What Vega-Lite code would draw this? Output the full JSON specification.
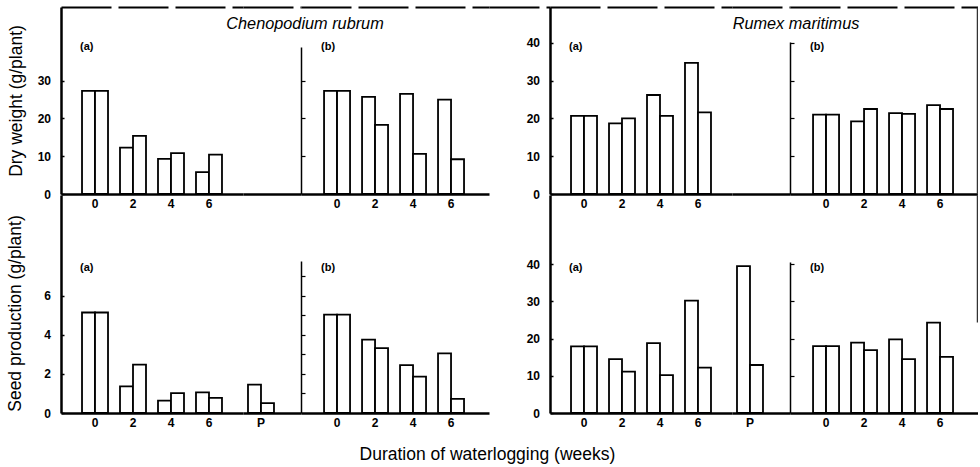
{
  "$schema": "https://vega.github.io/schema/vega-lite/v6.json",
  "padding": {"left": 6, "top": 7, "right": 0, "bottom": 2},
  "background": "white",
  "datasets": {
    "bars": [
      {"species": "Chenopodium rubrum", "measure": "Dry weight", "panel": "a", "week": "0", "treatment": "1", "value": 27.3},
      {"species": "Chenopodium rubrum", "measure": "Dry weight", "panel": "a", "week": "0", "treatment": "2", "value": 27.3},
      {"species": "Chenopodium rubrum", "measure": "Dry weight", "panel": "a", "week": "2", "treatment": "1", "value": 12.3},
      {"species": "Chenopodium rubrum", "measure": "Dry weight", "panel": "a", "week": "2", "treatment": "2", "value": 15.4},
      {"species": "Chenopodium rubrum", "measure": "Dry weight", "panel": "a", "week": "4", "treatment": "1", "value": 9.3},
      {"species": "Chenopodium rubrum", "measure": "Dry weight", "panel": "a", "week": "4", "treatment": "2", "value": 10.8},
      {"species": "Chenopodium rubrum", "measure": "Dry weight", "panel": "a", "week": "6", "treatment": "1", "value": 5.8},
      {"species": "Chenopodium rubrum", "measure": "Dry weight", "panel": "a", "week": "6", "treatment": "2", "value": 10.4},
      {"species": "Chenopodium rubrum", "measure": "Dry weight", "panel": "b", "week": "0", "treatment": "1", "value": 27.3},
      {"species": "Chenopodium rubrum", "measure": "Dry weight", "panel": "b", "week": "0", "treatment": "2", "value": 27.3},
      {"species": "Chenopodium rubrum", "measure": "Dry weight", "panel": "b", "week": "2", "treatment": "1", "value": 25.7},
      {"species": "Chenopodium rubrum", "measure": "Dry weight", "panel": "b", "week": "2", "treatment": "2", "value": 18.3},
      {"species": "Chenopodium rubrum", "measure": "Dry weight", "panel": "b", "week": "4", "treatment": "1", "value": 26.5},
      {"species": "Chenopodium rubrum", "measure": "Dry weight", "panel": "b", "week": "4", "treatment": "2", "value": 10.6},
      {"species": "Chenopodium rubrum", "measure": "Dry weight", "panel": "b", "week": "6", "treatment": "1", "value": 25.0},
      {"species": "Chenopodium rubrum", "measure": "Dry weight", "panel": "b", "week": "6", "treatment": "2", "value": 9.2},
      {"species": "Rumex maritimus", "measure": "Dry weight", "panel": "a", "week": "0", "treatment": "1", "value": 20.7},
      {"species": "Rumex maritimus", "measure": "Dry weight", "panel": "a", "week": "0", "treatment": "2", "value": 20.7},
      {"species": "Rumex maritimus", "measure": "Dry weight", "panel": "a", "week": "2", "treatment": "1", "value": 18.7},
      {"species": "Rumex maritimus", "measure": "Dry weight", "panel": "a", "week": "2", "treatment": "2", "value": 20.0},
      {"species": "Rumex maritimus", "measure": "Dry weight", "panel": "a", "week": "4", "treatment": "1", "value": 26.2},
      {"species": "Rumex maritimus", "measure": "Dry weight", "panel": "a", "week": "4", "treatment": "2", "value": 20.7},
      {"species": "Rumex maritimus", "measure": "Dry weight", "panel": "a", "week": "6", "treatment": "1", "value": 34.7},
      {"species": "Rumex maritimus", "measure": "Dry weight", "panel": "a", "week": "6", "treatment": "2", "value": 21.6},
      {"species": "Rumex maritimus", "measure": "Dry weight", "panel": "b", "week": "0", "treatment": "1", "value": 21.0},
      {"species": "Rumex maritimus", "measure": "Dry weight", "panel": "b", "week": "0", "treatment": "2", "value": 21.0},
      {"species": "Rumex maritimus", "measure": "Dry weight", "panel": "b", "week": "2", "treatment": "1", "value": 19.2},
      {"species": "Rumex maritimus", "measure": "Dry weight", "panel": "b", "week": "2", "treatment": "2", "value": 22.5},
      {"species": "Rumex maritimus", "measure": "Dry weight", "panel": "b", "week": "4", "treatment": "1", "value": 21.4},
      {"species": "Rumex maritimus", "measure": "Dry weight", "panel": "b", "week": "4", "treatment": "2", "value": 21.2},
      {"species": "Rumex maritimus", "measure": "Dry weight", "panel": "b", "week": "6", "treatment": "1", "value": 23.5},
      {"species": "Rumex maritimus", "measure": "Dry weight", "panel": "b", "week": "6", "treatment": "2", "value": 22.5},
      {"species": "Chenopodium rubrum", "measure": "Seed production", "panel": "a", "week": "0", "treatment": "1", "value": 5.14},
      {"species": "Chenopodium rubrum", "measure": "Seed production", "panel": "a", "week": "0", "treatment": "2", "value": 5.14},
      {"species": "Chenopodium rubrum", "measure": "Seed production", "panel": "a", "week": "2", "treatment": "1", "value": 1.36},
      {"species": "Chenopodium rubrum", "measure": "Seed production", "panel": "a", "week": "2", "treatment": "2", "value": 2.47},
      {"species": "Chenopodium rubrum", "measure": "Seed production", "panel": "a", "week": "4", "treatment": "1", "value": 0.63},
      {"species": "Chenopodium rubrum", "measure": "Seed production", "panel": "a", "week": "4", "treatment": "2", "value": 1.02},
      {"species": "Chenopodium rubrum", "measure": "Seed production", "panel": "a", "week": "6", "treatment": "1", "value": 1.06},
      {"species": "Chenopodium rubrum", "measure": "Seed production", "panel": "a", "week": "6", "treatment": "2", "value": 0.77},
      {"species": "Chenopodium rubrum", "measure": "Seed production", "panel": "a", "week": "P", "treatment": "1", "value": 1.45},
      {"species": "Chenopodium rubrum", "measure": "Seed production", "panel": "a", "week": "P", "treatment": "2", "value": 0.51},
      {"species": "Chenopodium rubrum", "measure": "Seed production", "panel": "b", "week": "0", "treatment": "1", "value": 5.03},
      {"species": "Chenopodium rubrum", "measure": "Seed production", "panel": "b", "week": "0", "treatment": "2", "value": 5.03},
      {"species": "Chenopodium rubrum", "measure": "Seed production", "panel": "b", "week": "2", "treatment": "1", "value": 3.75},
      {"species": "Chenopodium rubrum", "measure": "Seed production", "panel": "b", "week": "2", "treatment": "2", "value": 3.32},
      {"species": "Chenopodium rubrum", "measure": "Seed production", "panel": "b", "week": "4", "treatment": "1", "value": 2.45},
      {"species": "Chenopodium rubrum", "measure": "Seed production", "panel": "b", "week": "4", "treatment": "2", "value": 1.86},
      {"species": "Chenopodium rubrum", "measure": "Seed production", "panel": "b", "week": "6", "treatment": "1", "value": 3.05},
      {"species": "Chenopodium rubrum", "measure": "Seed production", "panel": "b", "week": "6", "treatment": "2", "value": 0.72},
      {"species": "Rumex maritimus", "measure": "Seed production", "panel": "a", "week": "0", "treatment": "1", "value": 17.9},
      {"species": "Rumex maritimus", "measure": "Seed production", "panel": "a", "week": "0", "treatment": "2", "value": 17.9},
      {"species": "Rumex maritimus", "measure": "Seed production", "panel": "a", "week": "2", "treatment": "1", "value": 14.5},
      {"species": "Rumex maritimus", "measure": "Seed production", "panel": "a", "week": "2", "treatment": "2", "value": 11.1},
      {"species": "Rumex maritimus", "measure": "Seed production", "panel": "a", "week": "4", "treatment": "1", "value": 18.8},
      {"species": "Rumex maritimus", "measure": "Seed production", "panel": "a", "week": "4", "treatment": "2", "value": 10.2},
      {"species": "Rumex maritimus", "measure": "Seed production", "panel": "a", "week": "6", "treatment": "1", "value": 30.2},
      {"species": "Rumex maritimus", "measure": "Seed production", "panel": "a", "week": "6", "treatment": "2", "value": 12.2},
      {"species": "Rumex maritimus", "measure": "Seed production", "panel": "a", "week": "P", "treatment": "1", "value": 39.5},
      {"species": "Rumex maritimus", "measure": "Seed production", "panel": "a", "week": "P", "treatment": "2", "value": 12.9},
      {"species": "Rumex maritimus", "measure": "Seed production", "panel": "b", "week": "0", "treatment": "1", "value": 18.0},
      {"species": "Rumex maritimus", "measure": "Seed production", "panel": "b", "week": "0", "treatment": "2", "value": 18.0},
      {"species": "Rumex maritimus", "measure": "Seed production", "panel": "b", "week": "2", "treatment": "1", "value": 18.9},
      {"species": "Rumex maritimus", "measure": "Seed production", "panel": "b", "week": "2", "treatment": "2", "value": 16.9},
      {"species": "Rumex maritimus", "measure": "Seed production", "panel": "b", "week": "4", "treatment": "1", "value": 19.8},
      {"species": "Rumex maritimus", "measure": "Seed production", "panel": "b", "week": "4", "treatment": "2", "value": 14.5},
      {"species": "Rumex maritimus", "measure": "Seed production", "panel": "b", "week": "6", "treatment": "1", "value": 24.3},
      {"species": "Rumex maritimus", "measure": "Seed production", "panel": "b", "week": "6", "treatment": "2", "value": 15.1}
    ]
  },
  "title": {"text": "Duration of waterlogging (weeks)", "orient": "bottom", "anchor": "middle", "fontSize": 17.5, "fontWeight": "normal", "offset": 18, "dx": -5},
  "columns": 7,
  "spacing": {"row": 1, "column": 0},
  "bounds": "flush",
  "resolve": {"scale": {"x": "independent", "y": "independent"}},
  "concat": [
    {
      "width": 182, "height": 187,
      "title": {"text": "(a)", "anchor": "start", "frame": "group", "fontSize": 11, "fontWeight": "bold", "baseline": "top", "offset": 0, "dx": 19, "dy": 45},
      "data": {"name": "bars"},
      "transform": [{"filter": "datum.species == 'Chenopodium rubrum' && datum.measure == 'Dry weight' && datum.panel == 'a'"}],
      "layer": [
        {"mark": "bar", "encoding": {
          "x": {"field": "week", "type": "ordinal", "scale": {"domain": ["0", "2", "4", "6"], "paddingInner": 0.3158, "paddingOuter": 0.553, "align": 0.5}, "axis": {"orient": "bottom", "title": null, "labelAngle": 0, "ticks": false, "labelPadding": 4}},
          "xOffset": {"field": "treatment", "type": "nominal"},
          "y": {"field": "value", "type": "quantitative", "scale": {"domain": [0, 49.5], "nice": false}, "axis": {"values": [0, 10, 20, 30], "title": "Dry weight (g/plant)", "tickSize": -3, "labelPadding": 13.5, "titlePadding": 12}}
        }},
        {"mark": {"type": "bar", "opacity": 0}, "encoding": {
          "x": {"field": "week", "type": "ordinal", "axis": {"orient": "top", "title": null, "labels": false, "ticks": false, "domainWidth": 2, "domainDash": [50, 7]}},
          "xOffset": {"field": "treatment", "type": "nominal"}
        }}
      ]
    },
    {
      "width": 58, "height": 187,
      "title": {"text": "Chenopodium rubrum", "fontStyle": "italic", "fontSize": 16.3, "fontWeight": "normal", "anchor": "middle", "frame": "group", "baseline": "top", "offset": 0, "dx": 33, "dy": 25, "limit": 400},
      "data": {"name": "bars"},
      "transform": [{"filter": "datum.species == 'Chenopodium rubrum' && datum.measure == 'Dry weight' && datum.panel == 'a' && datum.week == 'P'"}],
      "layer": [
        {"mark": "bar", "encoding": {
          "x": {"field": "week", "type": "ordinal", "scale": {"domain": ["P"], "paddingInner": 0.3158, "paddingOuter": 0.421, "align": 0.156}, "axis": {"orient": "bottom", "title": null, "labels": false, "ticks": false}},
          "xOffset": {"field": "treatment", "type": "nominal"},
          "y": {"field": "value", "type": "quantitative", "scale": {"domain": [0, 49.5], "nice": false}, "axis": null}
        }},
        {"mark": {"type": "bar", "opacity": 0}, "encoding": {
          "x": {"field": "week", "type": "ordinal", "axis": {"orient": "top", "title": null, "labels": false, "ticks": false, "domainWidth": 2, "domainDash": [50, 7]}},
          "xOffset": {"field": "treatment", "type": "nominal"}
        }}
      ]
    },
    {
      "width": 188, "height": 187,
      "title": {"text": "(b)", "anchor": "start", "frame": "group", "fontSize": 11, "fontWeight": "bold", "baseline": "top", "offset": 0, "dx": 20, "dy": 45},
      "data": {"name": "bars"},
      "transform": [{"filter": "datum.species == 'Chenopodium rubrum' && datum.measure == 'Dry weight' && datum.panel == 'b'"}],
      "layer": [
        {"mark": "bar", "encoding": {
          "x": {"field": "week", "type": "ordinal", "scale": {"domain": ["0", "2", "4", "6"], "paddingInner": 0.3158, "paddingOuter": 0.632, "align": 0.48}, "axis": {"orient": "bottom", "title": null, "labelAngle": 0, "ticks": false, "labelPadding": 4}},
          "xOffset": {"field": "treatment", "type": "nominal"},
          "y": {"field": "value", "type": "quantitative", "scale": {"domain": [0, 49.5], "nice": false}, "axis": {"values": [10, 20, 30], "labels": false, "title": null, "tickSize": -4, "tickWidth": 1.2, "domainWidth": 1.5, "domainDash": [147, 1000]}}
        }},
        {"mark": {"type": "bar", "opacity": 0}, "encoding": {
          "x": {"field": "week", "type": "ordinal", "axis": {"orient": "top", "title": null, "labels": false, "ticks": false, "domainWidth": 2, "domainDash": [50, 7]}},
          "xOffset": {"field": "treatment", "type": "nominal"}
        }}
      ]
    },
    {
      "width": 61, "height": 187,
      "data": {"name": "bars"},
      "transform": [{"filter": "false"}],
      "mark": "bar",
      "encoding": {
        "x": {"field": "week", "type": "ordinal", "scale": {"domain": ["P"]}, "axis": {"orient": "top", "title": null, "labels": false, "ticks": false, "domainWidth": 2, "domainDash": [50, 7]}},
        "y": {"field": "value", "type": "quantitative", "scale": {"domain": [0, 49.5], "nice": false}, "axis": null}
      }
    },
    {
      "width": 182, "height": 187,
      "title": {"text": "(a)", "anchor": "start", "frame": "group", "fontSize": 11, "fontWeight": "bold", "baseline": "top", "offset": 0, "dx": 19, "dy": 45},
      "data": {"name": "bars"},
      "transform": [{"filter": "datum.species == 'Rumex maritimus' && datum.measure == 'Dry weight' && datum.panel == 'a'"}],
      "layer": [
        {"mark": "bar", "encoding": {
          "x": {"field": "week", "type": "ordinal", "scale": {"domain": ["0", "2", "4", "6"], "paddingInner": 0.3158, "paddingOuter": 0.553, "align": 0.5}, "axis": {"orient": "bottom", "title": null, "labelAngle": 0, "ticks": false, "labelPadding": 4}},
          "xOffset": {"field": "treatment", "type": "nominal"},
          "y": {"field": "value", "type": "quantitative", "scale": {"domain": [0, 49.5], "nice": false}, "axis": {"values": [0, 10, 20, 30, 40], "title": null, "tickSize": -3, "labelPadding": 13.5}}
        }},
        {"mark": {"type": "bar", "opacity": 0}, "encoding": {
          "x": {"field": "week", "type": "ordinal", "axis": {"orient": "top", "title": null, "labels": false, "ticks": false, "domainWidth": 2, "domainDash": [50, 7]}},
          "xOffset": {"field": "treatment", "type": "nominal"}
        }}
      ]
    },
    {
      "width": 58, "height": 187,
      "title": {"text": "Rumex maritimus", "fontStyle": "italic", "fontSize": 16.3, "fontWeight": "normal", "anchor": "middle", "frame": "group", "baseline": "top", "offset": 0, "dx": 35, "dy": 25, "limit": 400},
      "data": {"name": "bars"},
      "transform": [{"filter": "datum.species == 'Rumex maritimus' && datum.measure == 'Dry weight' && datum.panel == 'a' && datum.week == 'P'"}],
      "layer": [
        {"mark": "bar", "encoding": {
          "x": {"field": "week", "type": "ordinal", "scale": {"domain": ["P"], "paddingInner": 0.3158, "paddingOuter": 0.421, "align": 0.156}, "axis": {"orient": "bottom", "title": null, "labels": false, "ticks": false}},
          "xOffset": {"field": "treatment", "type": "nominal"},
          "y": {"field": "value", "type": "quantitative", "scale": {"domain": [0, 49.5], "nice": false}, "axis": null}
        }},
        {"mark": {"type": "bar", "opacity": 0}, "encoding": {
          "x": {"field": "week", "type": "ordinal", "axis": {"orient": "top", "title": null, "labels": false, "ticks": false, "domainWidth": 2, "domainDash": [50, 7]}},
          "xOffset": {"field": "treatment", "type": "nominal"}
        }}
      ]
    },
    {
      "width": 188, "height": 187,
      "title": {"text": "(b)", "anchor": "start", "frame": "group", "fontSize": 11, "fontWeight": "bold", "baseline": "top", "offset": 0, "dx": 20, "dy": 45},
      "data": {"name": "bars"},
      "transform": [{"filter": "datum.species == 'Rumex maritimus' && datum.measure == 'Dry weight' && datum.panel == 'b'"}],
      "layer": [
        {"mark": "bar", "encoding": {
          "x": {"field": "week", "type": "ordinal", "scale": {"domain": ["0", "2", "4", "6"], "paddingInner": 0.3158, "paddingOuter": 0.632, "align": 0.48}, "axis": {"orient": "bottom", "title": null, "labelAngle": 0, "ticks": false, "labelPadding": 4}},
          "xOffset": {"field": "treatment", "type": "nominal"},
          "y": {"field": "value", "type": "quantitative", "scale": {"domain": [0, 49.5], "nice": false}, "axis": {"orient": "left", "values": [10, 20, 30, 40], "labels": false, "title": null, "tickSize": -4, "tickWidth": 1.2, "domainWidth": 1.5, "domainDash": [152, 1000]}}
        }},
        {"mark": {"type": "bar", "opacity": 0}, "encoding": {
          "x": {"field": "week", "type": "ordinal", "axis": {"orient": "top", "title": null, "labels": false, "ticks": false, "domainWidth": 2, "domainDash": [50, 7]}},
          "xOffset": {"field": "treatment", "type": "nominal"},
          "y": {"field": "value", "type": "quantitative", "axis": {"orient": "right", "labels": false, "ticks": false, "title": null, "domainWidth": 1.5, "domainColor": "#333333", "offset": -1}}
        }}
      ]
    },
    {
      "width": 182, "height": 218,
      "title": {"text": "(a)", "anchor": "start", "frame": "group", "fontSize": 11, "fontWeight": "bold", "baseline": "top", "offset": 0, "dx": 19, "dy": 78},
      "data": {"name": "bars"},
      "transform": [{"filter": "datum.species == 'Chenopodium rubrum' && datum.measure == 'Seed production' && datum.panel == 'a' && datum.week != 'P'"}],
      "mark": "bar",
      "encoding": {
        "x": {"field": "week", "type": "ordinal", "scale": {"domain": ["0", "2", "4", "6"], "paddingInner": 0.3158, "paddingOuter": 0.553, "align": 0.5}, "axis": {"orient": "bottom", "title": null, "labelAngle": 0, "ticks": false, "labelPadding": 4}},
        "xOffset": {"field": "treatment", "type": "nominal"},
        "y": {"field": "value", "type": "quantitative", "scale": {"domain": [0, 11.15], "nice": false}, "axis": {"values": [0, 2, 4, 6], "title": "Seed production (g/plant)", "tickSize": -3, "labelPadding": 13.5, "titlePadding": 19, "titleY": 118}}
      }
    },
    {
      "width": 58, "height": 218,
      "data": {"name": "bars"},
      "transform": [{"filter": "datum.species == 'Chenopodium rubrum' && datum.measure == 'Seed production' && datum.panel == 'a' && datum.week == 'P'"}],
      "mark": "bar",
      "encoding": {
        "x": {"field": "week", "type": "ordinal", "scale": {"domain": ["P"], "paddingInner": 0.3158, "paddingOuter": 0.421, "align": 0.156}, "axis": {"orient": "bottom", "title": null, "labelAngle": 0, "ticks": false, "labelPadding": 4}},
        "xOffset": {"field": "treatment", "type": "nominal"},
        "y": {"field": "value", "type": "quantitative", "scale": {"domain": [0, 11.15], "nice": false}, "axis": null}
      }
    },
    {
      "width": 188, "height": 218,
      "title": {"text": "(b)", "anchor": "start", "frame": "group", "fontSize": 11, "fontWeight": "bold", "baseline": "top", "offset": 0, "dx": 20, "dy": 78},
      "data": {"name": "bars"},
      "transform": [{"filter": "datum.species == 'Chenopodium rubrum' && datum.measure == 'Seed production' && datum.panel == 'b'"}],
      "mark": "bar",
      "encoding": {
        "x": {"field": "week", "type": "ordinal", "scale": {"domain": ["0", "2", "4", "6"], "paddingInner": 0.3158, "paddingOuter": 0.632, "align": 0.48}, "axis": {"orient": "bottom", "title": null, "labelAngle": 0, "ticks": false, "labelPadding": 4}},
        "xOffset": {"field": "treatment", "type": "nominal"},
        "y": {"field": "value", "type": "quantitative", "scale": {"domain": [0, 11.15], "nice": false}, "axis": {"values": [1, 2, 3, 4, 5, 6, 7], "labels": false, "title": null, "tickSize": -4, "tickWidth": 1.2, "domainWidth": 1.5, "domainDash": [152, 1000]}}
      }
    },
    {
      "width": 61, "height": 218,
      "data": {"name": "bars"},
      "transform": [{"filter": "false"}],
      "mark": "bar",
      "encoding": {
        "x": {"field": "week", "type": "ordinal", "scale": {"domain": ["P"]}, "axis": null},
        "y": {"field": "value", "type": "quantitative", "scale": {"domain": [0, 58.6], "nice": false}, "axis": null}
      }
    },
    {
      "width": 182, "height": 218,
      "title": {"text": "(a)", "anchor": "start", "frame": "group", "fontSize": 11, "fontWeight": "bold", "baseline": "top", "offset": 0, "dx": 19, "dy": 78},
      "data": {"name": "bars"},
      "transform": [{"filter": "datum.species == 'Rumex maritimus' && datum.measure == 'Seed production' && datum.panel == 'a' && datum.week != 'P'"}],
      "mark": "bar",
      "encoding": {
        "x": {"field": "week", "type": "ordinal", "scale": {"domain": ["0", "2", "4", "6"], "paddingInner": 0.3158, "paddingOuter": 0.553, "align": 0.5}, "axis": {"orient": "bottom", "title": null, "labelAngle": 0, "ticks": false, "labelPadding": 4}},
        "xOffset": {"field": "treatment", "type": "nominal"},
        "y": {"field": "value", "type": "quantitative", "scale": {"domain": [0, 58.6], "nice": false}, "axis": {"values": [0, 10, 20, 30, 40], "title": null, "tickSize": -3, "labelPadding": 13.5}}
      }
    },
    {
      "width": 58, "height": 218,
      "data": {"name": "bars"},
      "transform": [{"filter": "datum.species == 'Rumex maritimus' && datum.measure == 'Seed production' && datum.panel == 'a' && datum.week == 'P'"}],
      "mark": "bar",
      "encoding": {
        "x": {"field": "week", "type": "ordinal", "scale": {"domain": ["P"], "paddingInner": 0.3158, "paddingOuter": 0.421, "align": 0.156}, "axis": {"orient": "bottom", "title": null, "labelAngle": 0, "ticks": false, "labelPadding": 4}},
        "xOffset": {"field": "treatment", "type": "nominal"},
        "y": {"field": "value", "type": "quantitative", "scale": {"domain": [0, 58.6], "nice": false}, "axis": null}
      }
    },
    {
      "width": 188, "height": 218,
      "title": {"text": "(b)", "anchor": "start", "frame": "group", "fontSize": 11, "fontWeight": "bold", "baseline": "top", "offset": 0, "dx": 20, "dy": 78},
      "data": {"name": "bars"},
      "transform": [{"filter": "datum.species == 'Rumex maritimus' && datum.measure == 'Seed production' && datum.panel == 'b'"}],
      "layer": [
        {"mark": "bar", "encoding": {
          "x": {"field": "week", "type": "ordinal", "scale": {"domain": ["0", "2", "4", "6"], "paddingInner": 0.3158, "paddingOuter": 0.632, "align": 0.48}, "axis": {"orient": "bottom", "title": null, "labelAngle": 0, "ticks": false, "labelPadding": 4}},
          "xOffset": {"field": "treatment", "type": "nominal"},
          "y": {"field": "value", "type": "quantitative", "scale": {"domain": [0, 58.6], "nice": false}, "axis": {"orient": "left", "values": [10, 20, 30, 40], "labels": false, "title": null, "tickSize": -4, "tickWidth": 1.2, "domainWidth": 1.5, "domainDash": [151, 1000]}}
        }},
        {"mark": {"type": "bar", "opacity": 0}, "encoding": {
          "x": {"field": "week", "type": "ordinal"},
          "xOffset": {"field": "treatment", "type": "nominal"},
          "y": {"field": "value", "type": "quantitative", "axis": {"orient": "right", "labels": false, "ticks": false, "title": null, "domainWidth": 1.5, "domainColor": "#333333", "offset": -1, "domainDash": [0, 91, 127, 1000]}}
        }}
      ]
    }
  ],
  "config": {
    "font": "Liberation Sans",
    "view": {"stroke": null},
    "bar": {"fill": "white", "stroke": "black", "strokeWidth": 1.8},
    "axis": {"domainColor": "black", "tickColor": "black", "labelColor": "black", "titleColor": "black", "labelFont": "Liberation Sans", "titleFont": "Liberation Sans", "labelFontSize": 12, "labelFontWeight": "bold", "titleFontSize": 17.5, "titleFontWeight": "normal", "grid": false, "domainWidth": 2.5, "tickWidth": 1.5},
    "title": {"color": "black", "font": "Liberation Sans"}
  }
}
